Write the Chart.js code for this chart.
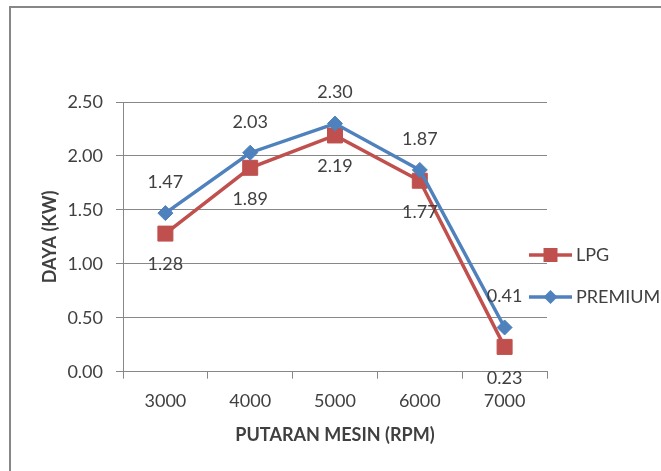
<!DOCTYPE html>
<html><head><meta charset="utf-8">
<script src="https://cdn.jsdelivr.net/npm/chart.js@4/dist/chart.umd.min.js"></script>
<style>html,body{margin:0;padding:0;background:#fff}#wrap{width:661px;height:471px;position:relative}</style>
</head><body><div id="wrap"><canvas id="c" width="661" height="471"></canvas></div>
<script>
const categories = ['3000', '4000', '5000', '6000', '7000'];
const lpg = [1.28, 1.89, 2.19, 1.77, 0.23];
const premium = [1.47, 2.03, 2.30, 1.87, 0.41];
const yMin = 0, yMax = 2.5, yStep = 0.5;
const xTitle = 'PUTARAN MESIN (RPM)';
const yTitle = 'DAYA (KW)';

const RED = '#C0504D', BLUE = '#4F81BD', GRID = '#878787', TXT = '#404040';
const FONT = 'Lato';

const framePlugin = {
  id: 'frame',
  beforeDraw(chart) {
    const ctx = chart.ctx;
    ctx.save();
    ctx.fillStyle = '#fff';
    ctx.fillRect(0, 0, chart.width, chart.height);
    ctx.strokeStyle = '#878787';
    ctx.lineWidth = 2;
    ctx.strokeRect(10, 7, 760, 560);
    ctx.restore();
  }
};

const labelPlugin = {
  id: 'dl',
  afterDatasetsDraw(chart) {
    const ctx = chart.ctx;
    ctx.save();
    ctx.font = '18px ' + FONT;
    ctx.fillStyle = TXT;
    ctx.textAlign = 'center';
    ctx.textBaseline = 'middle';
    chart.data.datasets.forEach((ds, i) => {
      const meta = chart.getDatasetMeta(i);
      const dir = ds.labelPos === 'above' ? -1 : 1;
      meta.data.forEach((pt, j) => {
        ctx.fillText(ds.data[j].toFixed(2), pt.x, pt.y + dir * 31);
      });
    });
    ctx.restore();
  }
};

const legendPlugin = {
  id: 'lg',
  afterDraw(chart) {
    const ctx = chart.ctx;
    const ys = [255, 297];
    ctx.save();
    chart.data.datasets.forEach((ds, i) => {
      const y = ys[i];
      ctx.strokeStyle = ds.borderColor;
      ctx.lineWidth = 3.5;
      ctx.beginPath(); ctx.moveTo(529, y); ctx.lineTo(572, y); ctx.stroke();
      ctx.fillStyle = ds.borderColor;
      if (ds.pointStyle === 'rect') {
        ctx.fillRect(543.5, y - 7, 14, 14);
      } else {
        ctx.beginPath();
        ctx.moveTo(550.5 - 7, y); ctx.lineTo(550.5, y - 7); ctx.lineTo(550.5 + 7, y); ctx.lineTo(550.5, y + 7);
        ctx.closePath(); ctx.fill();
      }
      ctx.fillStyle = TXT;
      ctx.font = '18px ' + FONT;
      ctx.textAlign = 'left';
      ctx.textBaseline = 'middle';
      ctx.fillText(ds.label, 576, y);
    });
    ctx.restore();
  }
};

new Chart(document.getElementById('c'), {
  type: 'line',
  data: {
    labels: categories,
    datasets: [
      { label: 'LPG', data: lpg, borderColor: RED, backgroundColor: RED, pointBackgroundColor: RED, pointBorderColor: RED,
        borderWidth: 3.5, pointStyle: 'rect', pointRadius: 10.6, pointBorderWidth: 1, tension: 0, order: 1, labelPos: 'below' },
      { label: 'PREMIUM', data: premium, borderColor: BLUE, backgroundColor: BLUE, pointBackgroundColor: BLUE, pointBorderColor: BLUE,
        borderWidth: 3.5, pointStyle: 'rectRot', pointRadius: 7.5, pointBorderWidth: 1, tension: 0, order: 0, labelPos: 'above' }
    ]
  },
  options: {
    responsive: false,
    animation: false,
    events: [],
    layout: { padding: { left: 8, right: 114, top: 102, bottom: 0 } },
    plugins: { legend: { display: false }, tooltip: { enabled: false } },
    scales: {
      x: {
        type: 'category',
        offset: true,
        afterFit(s) { s.height = 99.3; },
        grid: { display: true, offset: true, drawOnChartArea: false, drawTicks: true, tickLength: 7, color: GRID, lineWidth: 1 },
        border: { display: true, color: GRID, width: 1 },
        ticks: { color: TXT, font: { family: FONT, size: 18 }, padding: 12, maxRotation: 0 },
        title: { display: true, text: xTitle, color: TXT, font: { family: FONT, size: 18, weight: 'bold' }, padding: { top: 0, bottom: 25.2 } }
      },
      y: {
        min: yMin, max: yMax,
        afterFit(s) { s.width = 115; },
        grid: { display: true, drawOnChartArea: true, drawTicks: true, tickLength: 7, color: GRID, lineWidth: 1 },
        border: { display: true, color: GRID, width: 1 },
        ticks: { stepSize: yStep, color: TXT, font: { family: FONT, size: 18 }, padding: 13, callback: v => v.toFixed(2) },
        title: { display: true, text: yTitle, color: TXT, font: { family: FONT, size: 18, weight: 'bold' }, padding: { top: 31.2, bottom: 0 } }
      }
    }
  },
  plugins: [framePlugin, labelPlugin, legendPlugin]
});
</script>
</body></html>
